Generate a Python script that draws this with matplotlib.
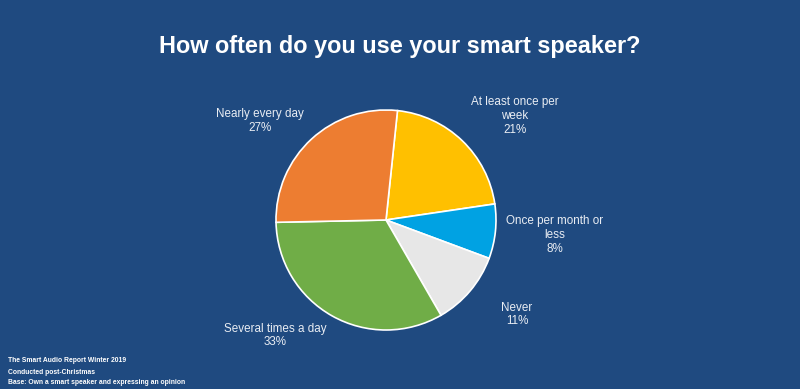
import matplotlib.pyplot as plt

# survey answers, clockwise from the top
labels = ['At least once per\nweek', 'Once per month or\nless', 'Never',
          'Several times a day', 'Nearly every day']
shares = [21, 8, 11, 33, 27]
colors = ['#FFC000', '#00A2E3', '#E7E7E7', '#70AD47', '#ED7D31']

# where each label sits (pie units, radius = 1)
label_xy = [(1.173, 0.945), (1.536, -0.136), (1.19, -0.86),
            (-1.005, -1.05), (-1.145, 0.90)]

notes = ['The Smart Audio Report Winter 2019', 'Conducted post-Christmas',
         'Base: Own a smart speaker and expressing an opinion']

bg = '#1F4A80'
plt.rcParams['font.family'] = ['Liberation Sans', 'DejaVu Sans']

fig = plt.figure(figsize=(8, 3.89), dpi=100, facecolor=bg)

# pie centre at (386, 220) px, radius 110 px
cx, cy, r = 386, 220, 110
ax = fig.add_axes([(cx - r) / 800, (389 - cy - r) / 389, 2 * r / 800, 2 * r / 389])
ax.set_facecolor(bg)
wedges, _ = ax.pie(shares, colors=colors, startangle=84, counterclock=False,
                   wedgeprops=dict(edgecolor='white', linewidth=1.2))
ax.set_xlim(-1, 1)
ax.set_ylim(-1, 1)
ax.set_aspect('auto')
ax.axis('off')

for lab, val, (x, y) in zip(labels, shares, label_xy):
    ax.text(x, y, f'{lab}\n{val}%', ha='center', va='center', color='#E9EDF3',
            fontsize=8.4, linespacing=1.2, clip_on=False)

fig.text(0.5, 1 - 47 / 389, 'How often do you use your smart speaker?',
         ha='center', va='center', color='white', fontsize=16.9, fontweight='bold')

for i, note in enumerate(notes):
    fig.text(8 / 800, 1 - (361 + i * 11) / 389, note, ha='left', va='center',
             color='white', fontsize=4.9, fontweight='bold')

fig.savefig('out.png', dpi=100, facecolor=bg)
